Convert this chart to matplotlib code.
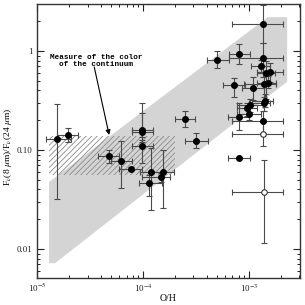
import matplotlib
matplotlib.use("Agg")
import matplotlib.pyplot as plt
import numpy as np
from matplotlib.ticker import FixedLocator, FixedFormatter, LogLocator, NullFormatter
from matplotlib.patches import Polygon, Rectangle

plt.rcParams['font.family'] = ['Liberation Serif', 'DejaVu Serif']
plt.rcParams['mathtext.fontset'] = 'stix'
plt.rcParams['hatch.linewidth'] = 0.6

# filled points: O/H, ratio, and error bounds
oh = [1.55e-5, 1.97e-5, 4.8e-5, 6.25e-5, 7.8e-5, 9.8e-5, 9.8e-5, 9.8e-5, 1.18e-4, 1.54e-4, 1.47e-4, 1.14e-4,
      2.5e-4, 3.2e-4, 5.0e-4, 8.0e-4, 7.3e-4, 8.1e-4, 1.35e-3, 1.35e-3, 1.3e-3, 1.45e-3, 1.6e-3, 1.38e-3,
      1.5e-3, 1.1e-3, 1.42e-3, 1.38e-3, 1.02e-3, 9.6e-4, 1.0e-3, 1.35e-3, 8.1e-4]
ratio = [0.13, 0.143, 0.088, 0.077, 0.065, 0.16, 0.151, 0.11, 0.0596, 0.0596, 0.053, 0.047,
         0.206, 0.123, 0.81, 0.925, 0.454, 0.217, 1.87, 0.86, 0.705, 0.595, 0.61, 0.46,
         0.48, 0.42, 0.316, 0.296, 0.285, 0.264, 0.23, 0.198, 0.084]
oh_lo = [1.22e-5, 1.55e-5, 3.8e-5, 5.0e-5, 6.0e-5, 7.9e-5, 7.9e-5, 7.9e-5, 9.4e-5, 1.2e-4, 9.7e-5, 9.1e-5,
         2.0e-4, 2.5e-4, 4.05e-4, 6.5e-4, 5.7e-4, 6.4e-4, 6.9e-4, 6.5e-4, 1.05e-3, 1.2e-3, 1.2e-3, 9e-4,
         1.2e-3, 8.7e-4, 1.08e-3, 1.0e-3, 7.7e-4, 7.7e-4, 7.7e-4, 7.0e-4, 6.3e-4]
oh_hi = [2.1e-5, 2.45e-5, 6.0e-5, 7.9e-5, 9.8e-5, 1.25e-4, 1.25e-4, 1.25e-4, 1.5e-4, 1.95e-4, 1.8e-4, 1.5e-4,
         3.1e-4, 4.1e-4, 6.5e-4, 1.03e-3, 9.2e-4, 1.0e-3, 2.1e-3, 2.1e-3, 1.6e-3, 1.75e-3, 2.1e-3, 1.8e-3,
         1.8e-3, 1.38e-3, 1.7e-3, 1.6e-3, 1.35e-3, 1.2e-3, 1.3e-3, 2.1e-3, 1.02e-3]
ratio_lo = [0.032, 0.12, 0.074, 0.041, 0.063, 0.125, 0.12, 0.074, 0.025, 0.026, 0.048, 0.034,
            0.17, 0.105, 0.68, 0.74, 0.345, 0.16, 1.2, 0.55, 0.6, 0.33, 0.49, 0.3,
            0.42, 0.32, 0.27, 0.25, 0.24, 0.22, 0.2, 0.15, 0.083]
ratio_hi = [0.29, 0.167, 0.101, 0.124, 0.067, 0.30, 0.235, 0.135, 0.104, 0.1, 0.058, 0.056,
            0.25, 0.15, 1.0, 1.18, 0.54, 0.30, 2.9, 1.2, 0.82, 0.8, 0.75, 0.6,
            0.56, 0.55, 0.37, 0.34, 0.33, 0.30, 0.27, 0.25, 0.085]

# open points
oh_open = [1.35e-3, 1.4e-3]
ratio_open = [0.144, 0.0374]
oh_open_lo = [7.0e-4, 6.9e-4]
oh_open_hi = [2.1e-3, 2.1e-3]
ratio_open_lo = [0.11, 0.0114]
ratio_open_hi = [0.19, 0.080]

# grey band (model range) vertices
band_x = [1.3e-5, 1.51e-3, 2.3e-3, 2.3e-3, 1.48e-5, 1.3e-5]
band_y = [0.0475, 2.2, 2.2, 0.49, 0.0072, 0.0072]

# hatched box: continuum colour
hatch_x = [1.3e-5, 2.0e-4]
hatch_y = [0.056, 0.138]

fig = plt.figure(figsize=(3.05, 3.05), dpi=100)
ax = fig.add_axes([0.1213, 0.0885, 0.8623, 0.898])
ax.set_xscale('log')
ax.set_yscale('log')
ax.set_xlim(1e-5, 3.04e-3)
ax.set_ylim(0.0051, 2.98)

ax.add_patch(Polygon(list(zip(band_x, band_y)), closed=True, facecolor='#d4d4d4', edgecolor='none', zorder=1))
ax.add_patch(Rectangle((hatch_x[0], hatch_y[0]), hatch_x[1] - hatch_x[0], hatch_y[1] - hatch_y[0],
                       facecolor='none', edgecolor='#8a8a8a', hatch='//////', linewidth=0, zorder=2))

ecol = '#4a4a4a'
def bars(x, y, xl, xh, yl, yh):
    x = np.array(x); y = np.array(y)
    xerr = [x - np.array(xl), np.array(xh) - x]
    yerr = [y - np.array(yl), np.array(yh) - y]
    ax.errorbar(x, y, xerr=xerr, yerr=yerr, fmt='none', ecolor=ecol, elinewidth=0.8,
                capsize=2.2, capthick=0.8, zorder=3)

bars(oh, ratio, oh_lo, oh_hi, ratio_lo, ratio_hi)
bars(oh_open, ratio_open, oh_open_lo, oh_open_hi, ratio_open_lo, ratio_open_hi)
ax.plot(oh, ratio, 'o', color='black', markersize=4.0, zorder=4)
ax.plot(oh_open, ratio_open, 'o', markerfacecolor='white', markeredgecolor='#333333',
        markeredgewidth=0.8, markersize=4.0, zorder=4)

ax.text(3.6e-5, 0.80, 'Measure of the color\nof the continuum', ha='center', va='center',
        family=['Liberation Mono', 'DejaVu Sans Mono'], fontweight='bold', fontsize=5.5,
        linespacing=1.0, zorder=5)
ax.annotate('', xy=(4.8e-5, 0.142), xytext=(3.47e-5, 0.69),
            arrowprops=dict(arrowstyle='-|>', color='black', lw=0.8, mutation_scale=7,
                            shrinkA=0, shrinkB=0), zorder=5)

ax.xaxis.set_major_locator(FixedLocator([1e-5, 1e-4, 1e-3]))
ax.xaxis.set_major_formatter(FixedFormatter([r'10$^{-5}$', r'10$^{-4}$', r'10$^{-3}$']))
ax.xaxis.set_minor_locator(LogLocator(base=10, subs=np.arange(2, 10)))
ax.xaxis.set_minor_formatter(NullFormatter())
ax.yaxis.set_major_locator(FixedLocator([0.01, 0.1, 1]))
ax.yaxis.set_major_formatter(FixedFormatter(['0.01', '0.10', '1']))
ax.yaxis.set_minor_locator(LogLocator(base=10, subs=np.arange(2, 10)))
ax.yaxis.set_minor_formatter(NullFormatter())

ax.tick_params(which='both', direction='in', top=True, right=True, labelsize=6.5, colors='#222222')
ax.tick_params(which='major', length=5, width=0.8)
ax.tick_params(axis='x', which='major', pad=3)
ax.tick_params(axis='y', which='major', pad=3)
ax.tick_params(which='minor', length=2.5, width=0.7)
for s in ax.spines.values():
    s.set_linewidth(1.0)
    s.set_color('#333333')

ax.set_xlabel('O/H', fontsize=7)
ax.xaxis.set_label_coords(0.5, -0.058)
ax.set_ylabel(r'F$_\nu$(8 $\mu$m)/F$_\nu$(24 $\mu$m)', fontsize=6.8)
ax.yaxis.set_label_coords(-0.087, 0.48)

fig.savefig('out.png', dpi=100)
